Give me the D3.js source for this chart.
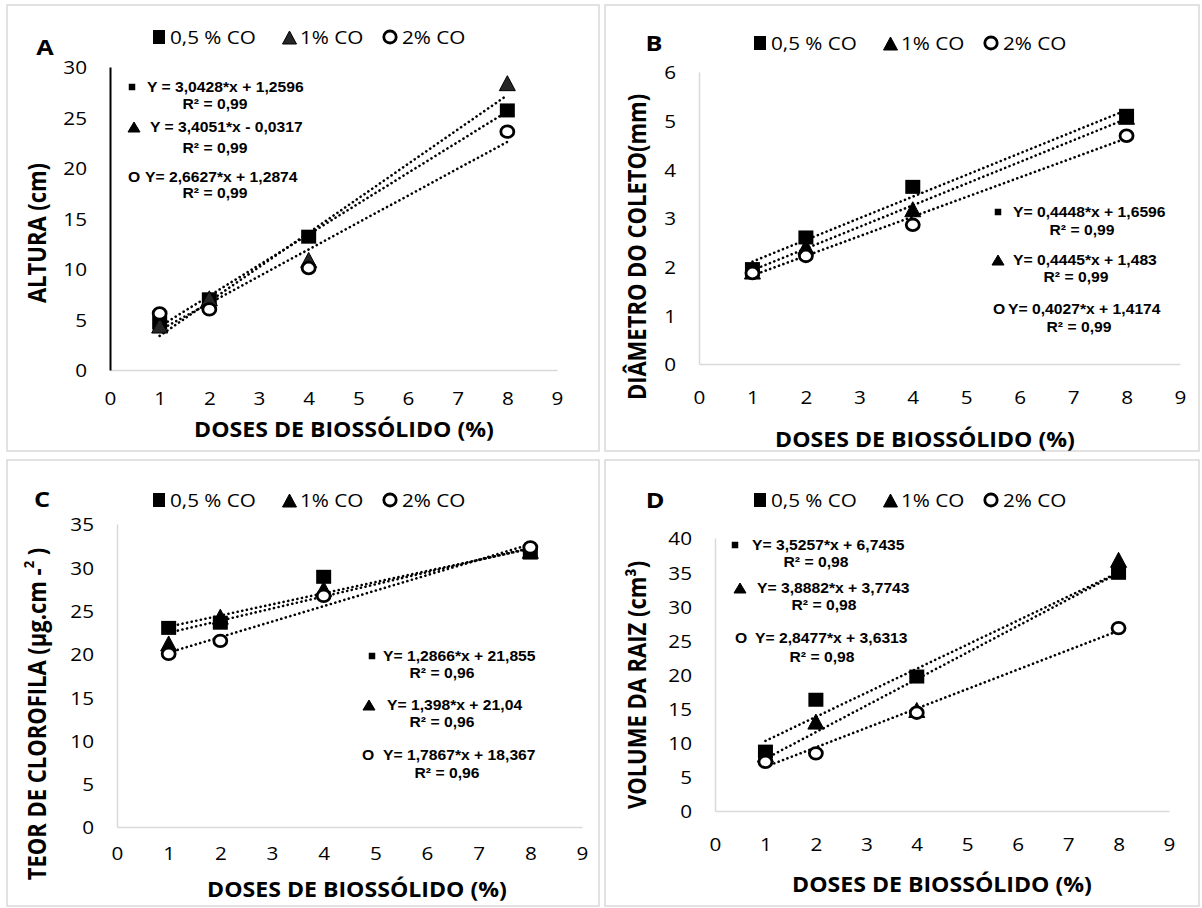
<!DOCTYPE html>
<html>
<head>
<meta charset="utf-8">
<script src="https://cdn.jsdelivr.net/npm/d3@7"></script>
<style>
  body { margin: 0; background: #fff; }
</style>
</head>
<body>
<div id="chart"></div>
<script>
// doses (x) and series names
const doses = [1, 2, 4, 8];
const xTicks = [0, 1, 2, 3, 4, 5, 6, 7, 8, 9];
const seriesNames = ["0,5 % CO", "1% CO", "2% CO"];

// A - altura (cm)
const alturaCO05 = [4.7, 7.0, 13.2, 25.7];
const alturaCO1 = [4.4, 7.1, 10.9, 28.4];
const alturaCO2 = [5.6, 6.0, 10.1, 23.6];
const alturaSlope = [3.0428, 3.4051, 2.6627];
const alturaIntercept = [1.2596, -0.0317, 1.2874];
const alturaEq = ["Y = 3,0428*x + 1,2596", "Y = 3,4051*x - 0,0317", "Y= 2,6627*x + 1,2874"];
const alturaR2 = ["R² = 0,99", "R² = 0,99", "R² = 0,99"];
const alturaTicks = [0, 5, 10, 15, 20, 25, 30];

// B - diametro do coleto (mm)
const diamCO05 = [1.95, 2.6, 3.64, 5.1];
const diamCO1 = [1.9, 2.41, 3.18, 5.08];
const diamCO2 = [1.87, 2.22, 2.86, 4.69];
const diamSlope = [0.4448, 0.4445, 0.4027];
const diamIntercept = [1.6596, 1.483, 1.4174];
const diamEq = ["Y= 0,4448*x + 1,6596", "Y= 0,4445*x + 1,483", "Y= 0,4027*x + 1,4174"];
const diamR2 = ["R² = 0,99", "R² = 0,99", "R² = 0,99"];
const diamTicks = [0, 1, 2, 3, 4, 5, 6];

// C - teor de clorofila
const cloroCO05 = [23.0, 23.6, 28.9, 31.7];
const cloroCO1 = [21.2, 24.3, 27.5, 31.9];
const cloroCO2 = [20.0, 21.5, 26.7, 32.3];
const cloroSlope = [1.2866, 1.398, 1.7867];
const cloroIntercept = [21.855, 21.04, 18.367];
const cloroEq = ["Y= 1,2866*x + 21,855", "Y= 1,398*x + 21,04", "Y= 1,7867*x + 18,367"];
const cloroR2 = ["R² = 0,96", "R² = 0,96", "R² = 0,96"];
const cloroTicks = [0, 5, 10, 15, 20, 25, 30, 35];

// D - volume da raiz (cm3)
const raizCO05 = [8.7, 16.3, 19.7, 34.9];
const raizCO1 = [8.3, 13.1, 14.8, 36.8];
const raizCO2 = [7.2, 8.45, 14.4, 26.8];
const raizSlope = [3.5257, 3.8882, 2.8477];
const raizIntercept = [6.7435, 3.7743, 3.6313];
const raizEq = ["Y= 3,5257*x + 6,7435", "Y= 3,8882*x + 3,7743", "Y= 2,8477*x + 3,6313"];
const raizR2 = ["R² = 0,98", "R² = 0,98", "R² = 0,98"];
const raizTicks = [0, 5, 10, 15, 20, 25, 30, 35, 40];

const W = 1202, H = 908;
const SX = 1.15;           // the original is stretched sideways
const SANS = "'Open Sans', 'Noto Sans', sans-serif";
const ARIAL = "'Liberation Sans', Arial, sans-serif";

const svg = d3.select("#chart").append("svg")
  .attr("width", W).attr("height", H);

function txt(g, x, y, s, o) {
  return g.append("text")
    .attr("transform", `translate(${x},${y}) scale(${o.sx || SX},1)`)
    .attr("text-anchor", o.anchor || "start")
    .attr("dominant-baseline", "central")
    .style("font-family", o.family || SANS)
    .style("font-size", o.size + "px")
    .style("font-weight", o.weight || "normal")
    .attr("fill", "#000")
    .text(s);
}

function square(g, cx, cy, w, h) {
  g.append("rect").attr("x", cx - w / 2).attr("y", cy - h / 2)
    .attr("width", w).attr("height", h).attr("fill", "#000");
}
function triangle(g, cx, cy, w, h, fill) {
  g.append("path")
    .attr("d", `M${cx},${cy - h / 2}L${cx + w / 2},${cy + h / 2}L${cx - w / 2},${cy + h / 2}Z`)
    .attr("fill", fill).attr("stroke", "#000").attr("stroke-width", 1);
}
function ring(g, cx, cy, rx, ry, sw) {
  g.append("ellipse").attr("cx", cx).attr("cy", cy).attr("rx", rx).attr("ry", ry)
    .attr("fill", "#fff").attr("stroke", "#000").attr("stroke-width", sw);
}

const panels = [
  { letter: "A", box: [7, 5, 592, 446], left: 110, right: 557, y0: 370, yTop: 67,
    ticks: alturaTicks, series: [alturaCO05, alturaCO1, alturaCO2],
    slope: alturaSlope, icpt: alturaIntercept, eq: alturaEq, r2: alturaR2,
    yAxisColor: "#000", yAxisWidth: 2, triFill: "#262626",
    letterPos: [45, 47], legend: [153, 37], xLab: 398, xTitle: [344, 428], yTitle: [37, 233],
    yLabel: ["ALTURA (cm)"],
    ann: [{ m: [132, 87], t: [147, 87], r: [215, 104] },
          { m: [134, 127], t: [150, 127], r: [215, 148] },
          { m: [128, 177], t: [145, 177], r: [215, 193] }] },
  { letter: "B", box: [605, 5, 594, 446], left: 699, right: 1180, y0: 364, yTop: 72,
    ticks: diamTicks, series: [diamCO05, diamCO1, diamCO2],
    slope: diamSlope, icpt: diamIntercept, eq: diamEq, r2: diamR2,
    yAxisColor: "#d9d9d9", yAxisWidth: 1.5, triFill: "#000",
    letterPos: [654, 43], legend: [754, 43], xLab: 397, xTitle: [925, 438], yTitle: [637, 247],
    yLabel: ["DIÂMETRO DO COLETO(mm)"],
    ann: [{ m: [998, 212], t: [1013, 212], r: [1082, 230] },
          { m: [998, 260], t: [1013, 260], r: [1076, 277] },
          { m: [993, 309], t: [1008, 309], r: [1079, 327] }] },
  { letter: "C", box: [7, 460, 592, 446], left: 117, right: 582, y0: 827, yTop: 524,
    ticks: cloroTicks, series: [cloroCO05, cloroCO1, cloroCO2],
    slope: cloroSlope, icpt: cloroIntercept, eq: cloroEq, r2: cloroR2,
    yAxisColor: "#d9d9d9", yAxisWidth: 1.5, triFill: "#000",
    letterPos: [42, 499], legend: [153, 500], xLab: 853, xTitle: [357, 888], yTitle: [37, 714],
    yLabel: ["TEOR DE CLOROFILA (µg.cm -", "2", " )"],
    ann: [{ m: [372, 656], t: [383, 656], r: [442, 673] },
          { m: [369, 705], t: [387, 705], r: [442, 722] },
          { m: [362, 755], t: [383, 755], r: [447, 773] }] },
  { letter: "D", box: [605, 460, 594, 446], left: 715, right: 1169, y0: 811, yTop: 538,
    ticks: raizTicks, series: [raizCO05, raizCO1, raizCO2],
    slope: raizSlope, icpt: raizIntercept, eq: raizEq, r2: raizR2,
    yAxisColor: "#d9d9d9", yAxisWidth: 1.5, triFill: "#000",
    letterPos: [655, 500], legend: [754, 500], xLab: 844, xTitle: [942, 883], yTitle: [637, 685],
    yLabel: ["VOLUME DA RAIZ (cm³)"],
    ann: [{ m: [735, 545], t: [752, 545], r: [816, 562] },
          { m: [740, 588], t: [757, 588], r: [824, 605] },
          { m: [735, 638], t: [755, 638], r: [822, 657] }] }
];

panels.forEach(p => {
  const g = svg.append("g");

  g.append("rect")
    .attr("x", p.box[0]).attr("y", p.box[1]).attr("width", p.box[2]).attr("height", p.box[3])
    .attr("fill", "#fff").attr("stroke", "#d9d9d9").attr("stroke-width", 1.5);

  const x = d3.scaleLinear().domain([0, 9]).range([p.left, p.right]);
  const y = d3.scaleLinear().domain([0, d3.max(p.ticks)]).range([p.y0, p.yTop]);

  // x axis
  const gx = g.append("g").attr("transform", `translate(0,${p.y0})`)
    .call(d3.axisBottom(x).tickValues(xTicks).tickFormat(d3.format("d")).tickSize(0).tickSizeOuter(0));
  gx.select(".domain").attr("stroke", "#d9d9d9").attr("stroke-width", 1.5);
  gx.selectAll("text")
    .attr("y", null).attr("dy", null)
    .attr("transform", `translate(0,${p.xLab - p.y0}) scale(${SX},1)`)
    .attr("dominant-baseline", "central")
    .attr("fill", "#000")
    .style("font-family", SANS).style("font-size", "18px");

  // y axis
  const gy = g.append("g").attr("transform", `translate(${p.left},0)`)
    .call(d3.axisLeft(y).tickValues(p.ticks).tickFormat(d3.format("d")).tickSize(0).tickSizeOuter(0));
  gy.select(".domain").attr("stroke", p.yAxisColor).attr("stroke-width", p.yAxisWidth);
  gy.selectAll("text")
    .attr("x", null).attr("dy", null)
    .attr("transform", `translate(-23,0) scale(${SX},1)`)
    .attr("dominant-baseline", "central")
    .attr("fill", "#000")
    .style("font-family", SANS).style("font-size", "18px");

  // trend lines
  const line = d3.line().x(d => x(d[0])).y(d => y(d[1]));
  const ends = [doses[0], doses[doses.length - 1]];
  p.slope.forEach((s, i) => {
    g.append("path")
      .datum(ends.map(v => [v, s * v + p.icpt[i]]))
      .attr("d", line)
      .attr("fill", "none").attr("stroke", "#000").attr("stroke-width", 2.6)
      .attr("stroke-linecap", "round").attr("stroke-dasharray", "0.1,4.6");
  });

  // points
  doses.forEach((d, i) => square(g, x(d), y(p.series[0][i]), 15, 14));
  doses.forEach((d, i) => triangle(g, x(d), y(p.series[1][i]), 16, 15, p.triFill));
  doses.forEach((d, i) => ring(g, x(d), y(p.series[2][i]), 6.5, 5.8, 2.8));

  // legend
  const [lx, ly] = p.legend;
  square(g, lx + 6, ly, 12, 14);
  txt(g, lx + 17, ly, seriesNames[0], { size: 18 });
  triangle(g, lx + 136.5, ly + 0.5, 14, 13, p.triFill);
  txt(g, lx + 147, ly, seriesNames[1], { size: 18 });
  ring(g, lx + 237, ly, 6.2, 6, 2.8);
  txt(g, lx + 249, ly, seriesNames[2], { size: 18 });

  // panel letter
  txt(g, p.letterPos[0], p.letterPos[1], p.letter, { size: 22, weight: "bold", anchor: "middle" });

  // axis titles
  txt(g, p.xTitle[0], p.xTitle[1], "DOSES DE BIOSSÓLIDO (%)",
    { size: 21, weight: "bold", anchor: "middle", sx: 1.1 });
  const yt = g.append("text")
    .attr("transform", `translate(${p.yTitle[0]},${p.yTitle[1]}) rotate(-90) scale(1,1.1)`)
    .attr("text-anchor", "middle").attr("dominant-baseline", "central")
    .style("font-family", SANS).style("font-size", "22px").style("font-weight", "bold");
  yt.append("tspan").text(p.yLabel[0]);
  if (p.yLabel.length > 1) {
    yt.append("tspan").attr("dy", -8).style("font-size", "13px").text(p.yLabel[1]);
    yt.append("tspan").attr("dy", 8).text(p.yLabel[2]);
  }

  // equations
  const eqFont = { size: 14, weight: "bold", family: ARIAL, sx: 1.12 };
  p.ann.forEach((a, i) => {
    if (i === 0) square(g, a.m[0], a.m[1], 6.5, 6.5);
    else if (i === 1) triangle(g, a.m[0], a.m[1], 12, 10, "#000");
    else txt(g, a.m[0], a.m[1], "O", eqFont);
    txt(g, a.t[0], a.t[1], p.eq[i], eqFont);
    txt(g, a.r[0], a.r[1], p.r2[i], Object.assign({}, eqFont, { anchor: "middle" }));
  });
});
</script>
</body>
</html>
